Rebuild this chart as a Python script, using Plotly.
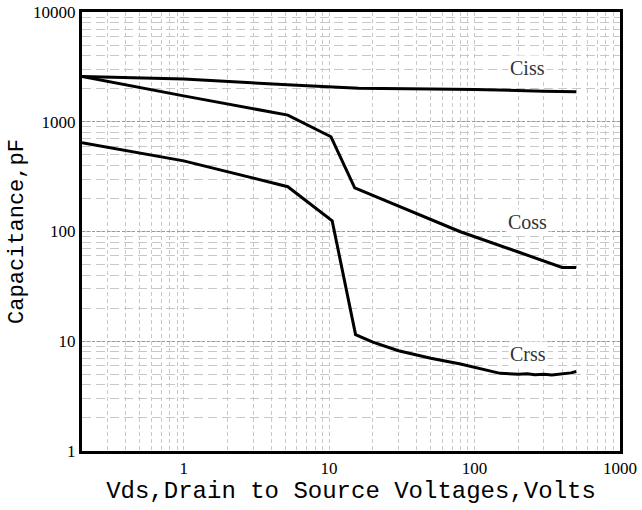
import math
import plotly.graph_objects as go

# Data (Vds in volts, capacitance in pF)
ciss_v = [0.2, 1, 6, 16, 50, 100, 300, 500]
ciss_c = [2590, 2450, 2150, 2020, 1990, 1970, 1900, 1880]

coss_v = [0.2, 1, 5.2, 10.3, 15, 30, 79, 200, 400, 500]
coss_c = [2590, 1720, 1150, 730, 250, 170, 100, 65, 47, 47]

crss_v = [0.2, 1, 5.2, 10.5, 15.2, 20, 30, 50, 80, 150, 200, 230, 260, 300, 340, 380, 420, 460, 500]
crss_c = [644, 440, 256, 125, 11.5, 9.8, 8.2, 7.0, 6.2, 5.1, 5.0, 5.05, 4.95, 5.0, 4.92, 4.98, 5.05, 5.15, 5.3]

x_ticks = [1, 10, 100, 1000]
x_labels = ["1", "10", "100", "1000"]
y_ticks = [1, 10, 100, 1000, 10000]
y_labels = ["1", "10", "100", "1000", "10000"]

labels = ["Ciss", "Coss", "Crss"]
label_x = [232, 232, 232]
label_y = [3100, 123, 7.6]

fig = go.Figure()
for xs, ys, name in [(ciss_v, ciss_c, "Ciss"), (coss_v, coss_c, "Coss"), (crss_v, crss_c, "Crss")]:
    fig.add_trace(go.Scatter(x=xs, y=ys, mode="lines", name=name,
                             line=dict(color="black", width=3), showlegend=False))

for t, xv, yv in zip(labels, label_x, label_y):
    fig.add_annotation(x=math.log10(xv), y=math.log10(yv), xref="x", yref="y", text=t,
                       showarrow=False,
                       font=dict(family="Liberation Serif", size=20, color="#333"),
                       bgcolor="white", borderpad=1)

fig.update_layout(
    width=642, height=510,
    margin=dict(l=82, r=22, t=12, b=59),
    plot_bgcolor="white", paper_bgcolor="white",
    font=dict(family="Liberation Serif", size=17, color="black"),
)
fig.update_xaxes(
    type="log", range=[-0.699, 3], automargin=False,
    tickvals=x_ticks, ticktext=x_labels, ticks="",
    showline=True, linecolor="black", linewidth=3, mirror=True,
    showgrid=True, gridcolor="#c8c8c8", gridwidth=1, griddash="4px,3px",
    minor=dict(dtick="D1", showgrid=True, gridcolor="#c8c8c8", gridwidth=1, griddash="4px,3px", ticks=""),
    title=dict(text="Vds,Drain to Source Voltages,Volts",
               font=dict(family="Liberation Mono", size=24, color="black"), standoff=4),
    tickfont=dict(family="Liberation Serif", size=17),
    zeroline=False,
)
fig.update_yaxes(
    type="log", range=[0, 4], automargin=False,
    tickvals=y_ticks, ticktext=y_labels, ticks="",
    showline=True, linecolor="black", linewidth=3, mirror=True,
    showgrid=True, gridcolor="#999999", gridwidth=1, griddash="3px,2px",
    minor=dict(dtick="D1", showgrid=True, gridcolor="#c8c8c8", gridwidth=1, griddash="9px,5px", ticks=""),
    title=dict(text="Capacitance,pF",
               font=dict(family="Liberation Mono", size=22, color="black"), standoff=4),
    tickfont=dict(family="Liberation Serif", size=17),
    zeroline=False,
)

fig.write_html("out.html", config={"displayModeBar": False},
               post_script="document.body.style.margin='0';")
